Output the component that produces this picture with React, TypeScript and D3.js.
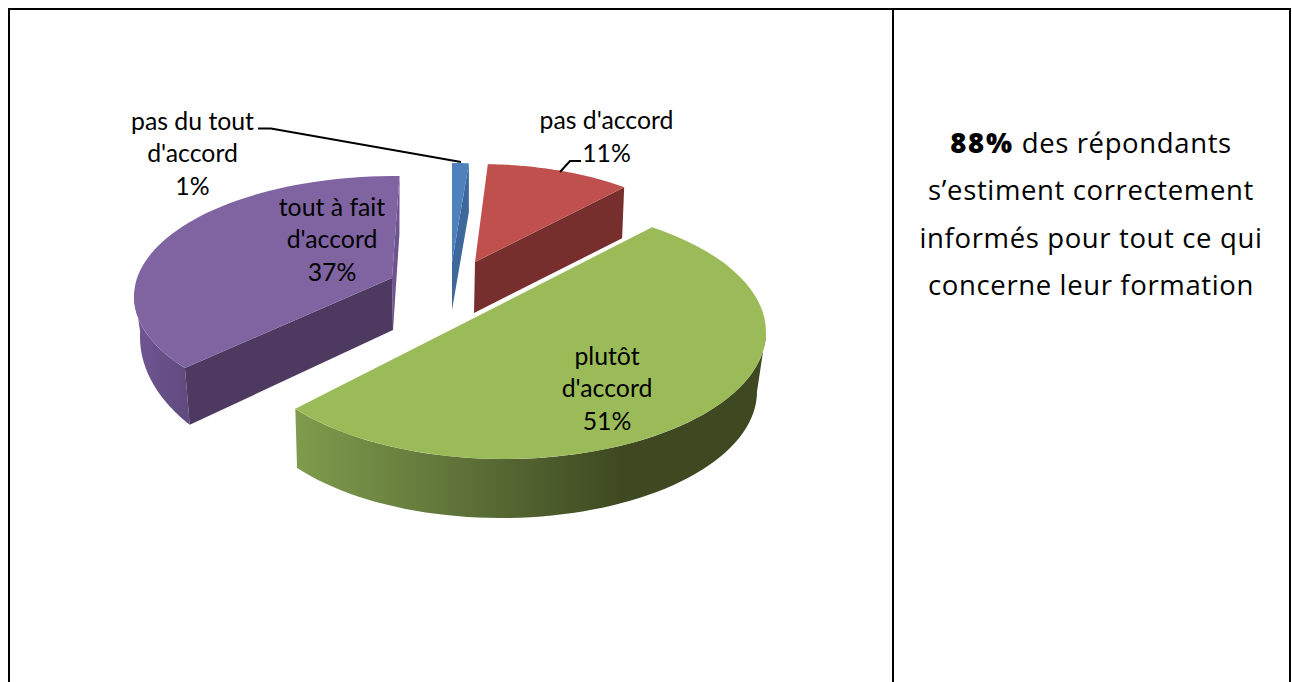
import React from "react";
import * as d3 from "d3";

const categories = ["pas du tout d'accord", "pas d'accord", "plutôt d'accord", "tout à fait d'accord"];
const values = [1, 11, 51, 37];
const topColors = ["#4f81bd", "#c0504d", "#9bbb59", "#8064a2"];
const faceColors = ["#3d689c", "#772f2d", "#3f4a21", "#4e3a61"];
const labelLines = [
  ["pas du tout", "d'accord", "1%"],
  ["pas d'accord", "11%"],
  ["plutôt", "d'accord", "51%"],
  ["tout à fait", "d'accord", "37%"],
];
const labelAnchors = [
  [192.5, 129.7],
  [606.5, 129.2],
  [607, 364.5],
  [332, 215.7],
];
const noteLines = ["s’estiment correctement", "informés pour tout ce qui", "concerne leur formation"];

// Layout of each exploded slice in the tilted view (not data).
type Ell = { cx: number; cy: number; rx: number; ry: number };
const sliceLayout: any[] = [
  { top: { cx: 452, cy: 262, rx: 225, ry: 99 }, bottom: { cx: 452, cy: 311, rx: 225, ry: 99 }, view: [0, 4.3], apex: [452, 262], apexLow: [452, 310], wall: null, endFace: true, startFace: false },
  { top: { cx: 478, cy: 262, rx: 226, ry: 98 }, bottom: { cx: 474, cy: 313, rx: 229, ry: 98 }, view: [2.5, 40.3], apex: [475, 262], apexLow: [474, 313], wall: null, endFace: true, startFace: false },
  { top: { cx: 504, cy: 332, rx: 262, ry: 127 }, bottom: { cx: 504, cy: 392, rx: 253, ry: 126 }, wallBottom: { cx: 501, cy: 391.5, rx: 256, ry: 126.5 }, view: [34.4, 232.8], apex: [480, 315], apexLow: [480, 370], wall: [90, 232.8], endFace: false, startFace: false },
  { top: { cx: 395, cy: 296.5, rx: 261, ry: 120.5 }, bottom: { cx: 395, cy: 354, rx: 254, ry: 120 }, wallBottom: { cx: 395, cy: 337, rx: 255, ry: 148 }, view: [233.6, 361], apex: [392, 278], apexLow: [393, 330], wall: [233.6, 272], endFace: true, startFace: true },
];

const ellipsePoint = (e: Ell, deg: number): [number, number] => {
  const t = (deg * Math.PI) / 180;
  return [e.cx + e.rx * Math.sin(t), e.cy - e.ry * Math.cos(t)];
};
const sweep = (e: Ell, from: number, to: number) =>
  d3.range(0, 61).map((i) => ellipsePoint(e, from + ((to - from) * i) / 60));
const pathOf = d3.line<[number, number]>();
const closed = (pts: [number, number][]) => pathOf(pts) + "Z";

const FONT_CHART = "Lato, sans-serif";
const FONT_NOTE = "'Open Sans', sans-serif";

export default function App() {
  const arcs = d3.pie<number>().sort(null).value((d) => d)(values);
  const slices = arcs.map((arc, i) => {
    const l = sliceLayout[i];
    const toView = d3.scaleLinear().domain([arc.startAngle, arc.endAngle]).range(l.view);
    return { i, l, v0: toView(arc.startAngle), v1: toView(arc.endAngle) };
  });

  const face = (l: any, deg: number, low: Ell) =>
    closed([ellipsePoint(l.top, deg), l.apex, l.apexLow, ellipsePoint(low, deg)]);

  return (
    <svg width={1292} height={682} style={{ position: "absolute", left: 0, top: 0, display: "block", background: "#fff" }}>
      <defs>
        <linearGradient id="greenWall" gradientUnits="userSpaceOnUse" x1={295} x2={620} y1={0} y2={0}>
          <stop offset="0" stopColor="#7f9c4c" />
          <stop offset="0.5" stopColor="#5f7339" />
          <stop offset="1" stopColor="#3e4921" />
        </linearGradient>
        <linearGradient id="purpleWall" gradientUnits="userSpaceOnUse" x1={134} x2={190} y1={0} y2={0}>
          <stop offset="0" stopColor="#6f5793" />
          <stop offset="1" stopColor="#5f4a7e" />
        </linearGradient>
      </defs>

      {/* table borders */}
      <g fill="none" stroke="#000" strokeWidth={2}>
        <path d="M9,682V9H1290V682" />
        <path d="M893,9V682" />
      </g>

      {slices.map(({ i, l, v0, v1 }) => (
        <g key={categories[i]}>
          {l.wall && (
            <path
              d={closed([...sweep(l.top, l.wall[0], l.wall[1]), ...sweep(l.wallBottom, l.wall[1], l.wall[0])])}
              fill={i === 2 ? "url(#greenWall)" : "url(#purpleWall)"}
            />
          )}
          {l.endFace && <path d={face(l, v1, l.bottom)} fill={i === 3 ? "#6d5390" : faceColors[i]} />}
          {l.startFace && <path d={face(l, v0, l.wallBottom)} fill={faceColors[i]} />}
          <path d={closed([...sweep(l.top, v0, v1), l.apex as [number, number]])} fill={topColors[i]} />
        </g>
      ))}

      {/* leader lines */}
      <g fill="none" stroke="#000" strokeWidth={2}>
        <path d="M258,128.5H271L461,162" />
        <path d="M560,172L570,161H581" />
      </g>

      {/* data labels */}
      <g fontFamily={FONT_CHART} fontSize={24.8} fill="#000" textAnchor="middle">
        {labelLines.map((lines, i) =>
          lines.map((t, j) => (
            <text key={t + i} x={labelAnchors[i][0]} y={labelAnchors[i][1] + j * 32.5}>
              {t}
            </text>
          ))
        )}
      </g>

      {/* note */}
      <g fontFamily={FONT_NOTE} fontSize={27.5} letterSpacing={0.63} fill="#000" textAnchor="middle">
        <text x={1091} y={153}>
          <tspan fontWeight={800} letterSpacing={1.8}>88%</tspan> des répondants
        </text>
        {noteLines.map((t, j) => (
          <text key={t} x={1091} y={200 + j * 47.5}>
            {t}
          </text>
        ))}
      </g>
    </svg>
  );
}
